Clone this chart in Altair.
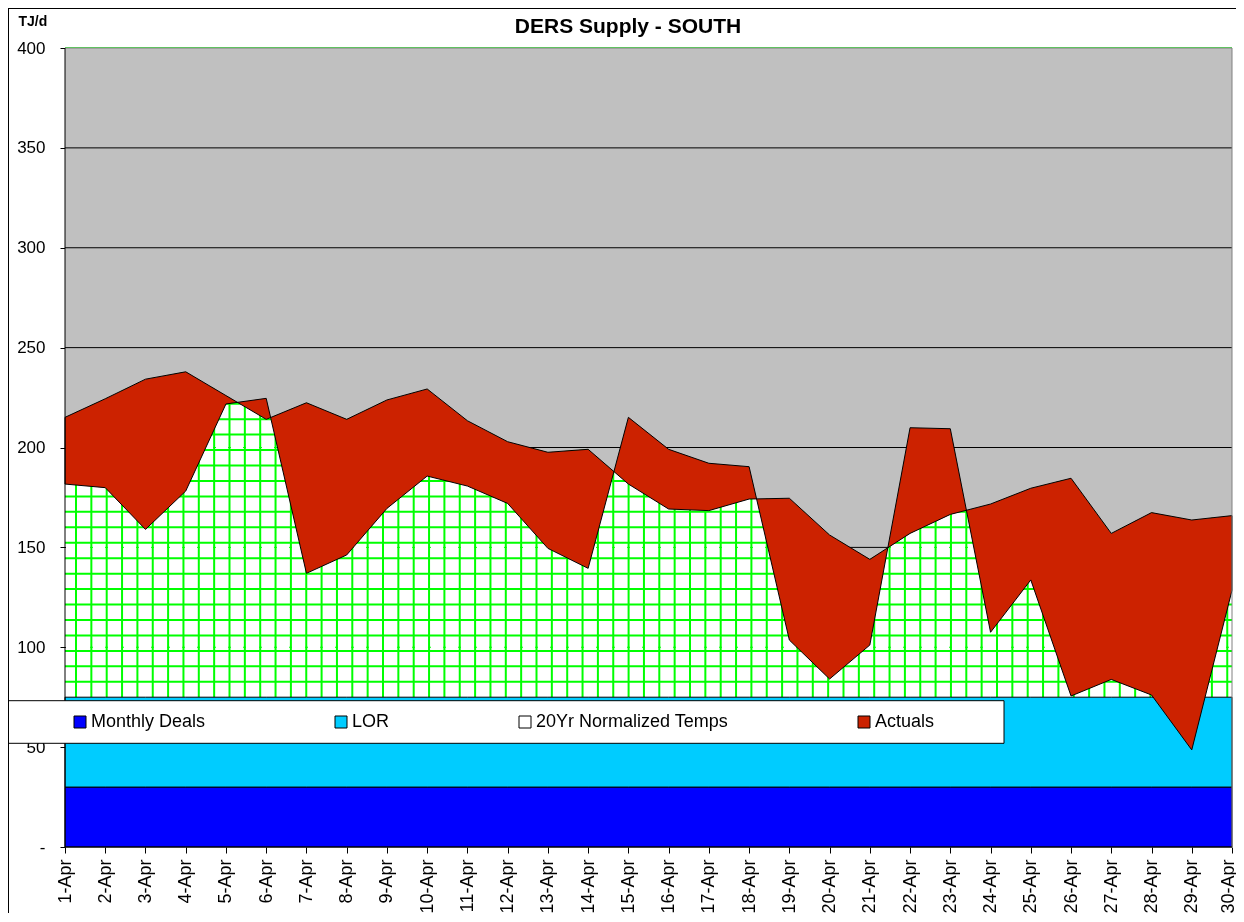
import json
import numpy as np
import pandas as pd
import altair as alt

# ---------------- data ----------------
dates = ["1-Apr", "2-Apr", "3-Apr", "4-Apr", "5-Apr", "6-Apr", "7-Apr", "8-Apr", "9-Apr", "10-Apr",
         "11-Apr", "12-Apr", "13-Apr", "14-Apr", "15-Apr", "16-Apr", "17-Apr", "18-Apr", "19-Apr", "20-Apr",
         "21-Apr", "22-Apr", "23-Apr", "24-Apr", "25-Apr", "26-Apr", "27-Apr", "28-Apr", "29-Apr", "30-Apr"]
days = [1, 2, 3, 4, 5, 6, 7, 8, 9, 10, 11, 12, 13, 14, 15,
        16, 17, 18, 19, 20, 21, 22, 23, 24, 25, 26, 27, 28, 29, 30]
monthly_deals = [30, 30, 30, 30, 30, 30, 30, 30, 30, 30, 30, 30, 30, 30, 30,
                 30, 30, 30, 30, 30, 30, 30, 30, 30, 30, 30, 30, 30, 30, 30]
lor = [45, 45, 45, 45, 45, 45, 45, 45, 45, 45, 45, 45, 45, 45, 45,
       45, 45, 45, 45, 45, 45, 45, 45, 45, 45, 45, 45, 45, 45, 45]
normalized_total = [215.1, 224.4, 234.2, 237.9, 226.0, 214.1, 222.4, 214.1, 223.8, 229.3,
                    213.4, 202.9, 197.6, 199.1, 181.7, 169.2, 168.4, 174.2, 174.6, 156.2,
                    144.0, 157.0, 166.5, 171.7, 179.6, 184.6, 157.0, 167.4, 163.7, 165.9]
actuals_total = [181.7, 179.9, 159.0, 178.2, 221.8, 224.6, 137.0, 146.2, 169.5, 185.7,
                 180.7, 172.0, 149.5, 139.5, 215.1, 199.1, 192.1, 190.4, 103.6, 84.1,
                 101.1, 209.9, 209.4, 107.5, 133.7, 75.6, 83.9, 76.1, 48.6, 128.5]
series_names = ["Monthly Deals", "LOR", "20Yr Normalized Temps", "Actuals"]
series_colors = ["#0000FF", "#00CCFF", "#FFFFFF", "#CC2200"]
y_ticks = [0, 50, 100, 150, 200, 250, 300, 350, 400]
grid_levels = [100, 150, 200, 250, 300, 350]
chart_title = "DERS Supply - SOUTH"

# ---------------- geometry / style ----------------
W, H = 1167, 799
px_per_day = W / 29.0
px_per_tj = H / 400.0

wide = pd.DataFrame({"day": days, "date": dates,
                     "normalized": normalized_total, "actuals": actuals_total})
stack_rows = []
for d, dt, md, lr in zip(days, dates, monthly_deals, lor):
    stack_rows.append({"day": d, "date": dt, "series": "Monthly Deals", "value": md, "rank": 0})
    stack_rows.append({"day": d, "date": dt, "series": "LOR", "value": lr, "rank": 1})
stack_df = pd.DataFrame(stack_rows)

# green cross-hatch pattern of the "20Yr Normalized Temps" fill (pure decoration)
base_level = monthly_deals[0] + lor[0]
vlines_df = pd.DataFrame({"day": np.arange(1 + 11 / px_per_day, 30, 15.35 / px_per_day)})
vlines_df["lo"] = base_level
vlines_df["hi"] = 400
hlines_df = pd.DataFrame({"level": np.arange(base_level + 7.7, 400, 15.45 / px_per_tj)})

x_scale = alt.Scale(domain=[1, 30], nice=False, zero=False)
y_scale = alt.Scale(domain=[0, 400], nice=False)

x_axis = alt.Axis(values=days, labelExpr=json.dumps(dates) + "[datum.value - 1]",
                  labelAngle=-90, labelFontSize=18, labelPadding=6, tickSize=6,
                  labelOffset={"condition": {"test": "datum.value == 30", "value": -4}, "value": 0},
                  tickColor="black", domain=False, labelColor="black", grid=False, title=None)
y_axis = alt.Axis(values=y_ticks,
                  labelExpr="datum.value == 0 ? '-\u00a0\u00a0\u00a0\u00a0' : datum.value",
                  labelFontSize=17, labelPadding=15, tickSize=5, tickColor="black",
                  domain=False, labelColor="black", grid=False,
                  title="TJ/d", titleAngle=0, titleX=-47, titleY=-23, titleAlign="left",
                  titleBaseline="alphabetic", titleFontSize=14, titleFontWeight="bold",
                  titleColor="black")


def X(field):
    return alt.X(f"{field}:Q", scale=x_scale, axis=x_axis)


def Y(field, **kw):
    return alt.Y(f"{field}:Q", scale=y_scale, axis=y_axis, **kw)


vlines = alt.Chart(vlines_df).mark_rule(color="#00FF00", strokeWidth=2).encode(
    x=X("day"), y=Y("lo"), y2="hi")
hlines = alt.Chart(hlines_df).mark_rule(color="#00FF00", strokeWidth=2).encode(y=Y("level"))

gray = alt.Chart(wide).mark_area(fill="#C0C0C0").encode(
    x=X("day"), y=Y("normalized"), y2=alt.datum(400))

gridlines = alt.Chart(pd.DataFrame({"level": grid_levels})).mark_rule(
    color="black", strokeWidth=1, blend="color-burn").encode(y=Y("level"))

legend = alt.Legend(orient="none", legendX=6, legendY=665, direction="horizontal", columns=4,
                    columnPadding=126, symbolType="square", symbolSize=144,
                    symbolStrokeColor="black", symbolStrokeWidth=1, labelFontSize=18,
                    labelOffset=2, labelLimit=400, labelColor="black", title=None, padding=0)

stack = alt.Chart(stack_df).mark_area(stroke="black", strokeWidth=1).encode(
    x=X("day"),
    y=Y("value", stack="zero"),
    fill=alt.Fill("series:N", scale=alt.Scale(domain=series_names, range=series_colors),
                  legend=legend),
    order=alt.Order("rank:Q"),
)

red = alt.Chart(wide).mark_area(fill="#CC2200", stroke="black", strokeWidth=1).encode(
    x=X("day"), y=Y("normalized"), y2="actuals")

one = pd.DataFrame({"k": [0]})
top_border = alt.Chart(pd.DataFrame({"level": [400]})).mark_rule(color="#808080").encode(y=Y("level"))
right_border = alt.Chart(pd.DataFrame({"day": [30]})).mark_rule(color="#808080").encode(x=X("day"))
left_axis_line = alt.Chart(pd.DataFrame({"day": [1]})).mark_rule(color="black").encode(x=X("day"))
bottom_axis_line = alt.Chart(pd.DataFrame({"level": [0]})).mark_rule(color="black").encode(y=Y("level"))

legend_box = alt.Chart(one).mark_rect(fill="white", stroke="black", strokeWidth=1).encode(
    x=alt.value(-57), x2=alt.value(939), y=alt.value(652.7), y2=alt.value(695.3))

frame_left = alt.Chart(one).mark_rule(color="black").encode(
    x=alt.value(-56.5), y=alt.value(-39.5), y2=alt.value(900))
frame_top = alt.Chart(one).mark_rule(color="black").encode(
    x=alt.value(-57), x2=alt.value(1190), y=alt.value(-39.5))

title_text = alt.Chart(one).mark_text(
    text=chart_title, fontSize=21, fontWeight="bold", align="center",
    baseline="alphabetic", color="black").encode(x=alt.value(563), y=alt.value(-15))

chart = alt.layer(
    vlines, hlines, gray, gridlines, stack, red,
    top_border, right_border, left_axis_line, bottom_axis_line,
    legend_box, frame_left, frame_top, title_text,
).properties(
    width=W, height=H,
    autosize=alt.AutoSizeParams(type="none"),
    padding={"left": 57, "top": 40, "right": 4, "bottom": 66},
).configure(font="Liberation Sans").configure_view(stroke=None)

chart.save("out.html", embed_options={"renderer": "svg", "actions": False})
